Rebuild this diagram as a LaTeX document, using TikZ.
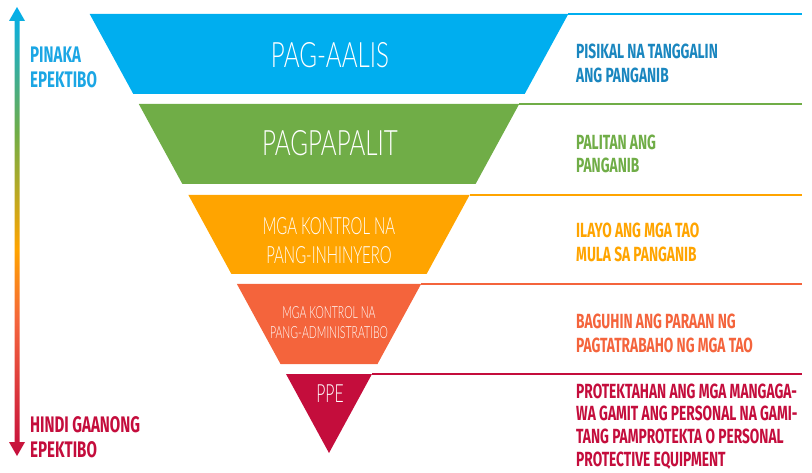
\documentclass[tikz,border=0pt]{standalone}
\usepackage{fontspec}
\usetikzlibrary{calc}
\newfontfamily\thinfont[FakeStretch=0.63]{Lato Light}
\newfontfamily\thinwide[FakeStretch=0.69]{Lato Light}
\newfontfamily\boldfont[FakeStretch=0.67]{Fira Sans}
\definecolor{blu}{HTML}{00AEEF}
\definecolor{grn}{HTML}{70AD47}
\definecolor{orng}{HTML}{FFA400}
\definecolor{redor}{HTML}{F4643C}
\definecolor{crim}{HTML}{C40D3C}
\definecolor{bluetext}{HTML}{1A86BF}
\definecolor{lefttext}{HTML}{1BA6E4}
\pgfdeclareverticalshading{effgrad}{100bp}{color(0bp)=(crim); color(25bp)=(crim); color(40bp)=(redor); color(48bp)=(orng); color(61bp)=(grn); color(75bp)=(blu); color(100bp)=(blu)}
\tikzset{
  band label/.style={text=white, inner sep=0pt, align=center},
  side note/.style={anchor=west, inner sep=0pt, align=left,
    font={\boldfont\bfseries\fontsize{20.5}{23.5}\selectfont}},
  end label/.style={anchor=west, inner sep=0pt, align=left,
    font={\boldfont\bfseries\fontsize{22.5}{25}\selectfont}},
  rule/.style={line width=1.3pt}
}

\begin{document}
\begin{tikzpicture}[x=1pt, y=-1pt]
  \useasboundingbox (0,0) rectangle (812,473);

  % the five bands of the funnel
  \fill[blu] (89.7,14) -- (568.3,14) -- (524.7,94) -- (133.3,94) -- cycle;
  \fill[grn] (138.8,104) -- (519.2,104) -- (475.6,184) -- (182.4,184) -- cycle;
  \fill[orng] (188.4,195) -- (469.6,195) -- (426.6,274) -- (231.4,274) -- cycle;
  \fill[redor] (236.9,284) -- (421.1,284) -- (377.5,364) -- (280.5,364) -- cycle;
  \fill[crim] (286,374) -- (372,374) -- (329,453) -- cycle;

  \node[band label, font={\thinwide\fontsize{35}{40}\selectfont}] (aalis) at (330,55)
      {PAG-AALIS};
  \node[band label, font={\thinwide\fontsize{35}{40}\selectfont}] (palit) at (330,143)
      {PAGPAPALIT};
  \node[band label, font={\thinfont\fontsize{23.7}{29}\selectfont}] (inhin) at (329,241)
      {MGA KONTROL NA\\PANG-INHINYERO};
  \node[band label, font={\thinfont\fontsize{16.7}{20}\selectfont}] (admin) at (329,323)
      {MGA KONTROL NA\\PANG-ADMINISTRATIBO};
  \node[band label, font={\thinfont\fontsize{25}{30}\selectfont}] (ppe) at (330,394)
      {PPE};

  % rules running out to the notes
  \coordinate (r1) at (568.3,14);  \coordinate (e1) at (802,14);
  \coordinate (r2) at (519.2,104); \coordinate (e2) at (802,104);
  \coordinate (r3) at (469.6,195); \coordinate (e3) at (802,195);
  \coordinate (r4) at (421.1,284); \coordinate (e4) at (802,284);
  \coordinate (r5) at (372,374);   \coordinate (e5) at (802,374);
  \draw[rule, blu] (r1) -- (e1);
  \draw[rule, grn] (r2) -- (e2);
  \draw[rule, orng] (r3) -- (e3);
  \draw[rule, redor] (r4) -- (e4);
  \draw[rule, crim] (r5) -- (e5);

  \node[side note, text=bluetext] (n1) at (576,63.5)
      {PISIKAL NA TANGGALIN\\ANG PANGANIB};
  \node[side note, text=grn] (n2) at (576,154)
      {PALITAN ANG\\PANGANIB};
  \node[side note, text=orng] (n3) at (576,242.5)
      {ILAYO ANG MGA TAO\\MULA SA PANGANIB};
  \node[side note, text=redor] (n4) at (576,333.5)
      {BAGUHIN ANG PARAAN NG\\PAGTATRABAHO NG MGA TAO};
  \node[side note, text=crim, font={\boldfont\bfseries\fontsize{20.5}{22.8}\selectfont}] (n5) at (576,426.5)
      {PROTEKTAHAN ANG MGA MANGAGA-\\WA GAMIT ANG PERSONAL NA GAMI-\\TANG PAMPROTEKTA O PERSONAL\\PROTECTIVE EQUIPMENT};

  % effectiveness arrow
  \coordinate (top) at (17,7);
  \coordinate (bot) at (17,456);
  \shade[shading=effgrad] (top) -- ++(8,14) -- ++(-5.5,0) -- ($(bot)+(2.5,-14)$)
      -- ++(5.5,0) -- (bot) -- ++(-8,-14) -- ++(5.5,0) -- ($(top)+(-2.5,14)$)
      -- ++(-5.5,0) -- cycle;

  \node[end label, text=lefttext] (most) at (30,67.5) {PINAKA\\EPEKTIBO};
  \node[end label, text=crim] (least) at (30,437.5) {HINDI GAANONG\\EPEKTIBO};
\end{tikzpicture}
\end{document}
